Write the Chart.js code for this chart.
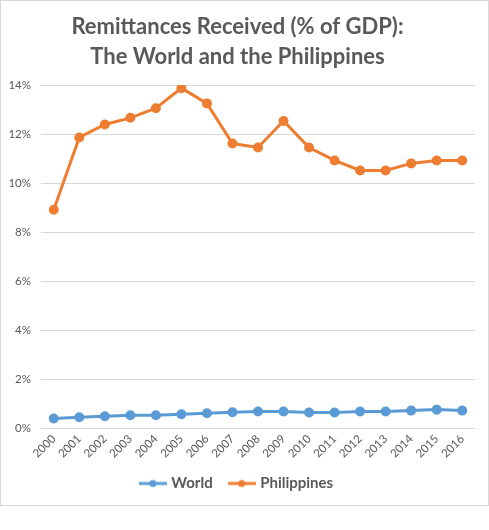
<!DOCTYPE html>
<html>
<head>
<meta charset="utf-8">
<script src="https://cdn.jsdelivr.net/npm/chart.js@4.4.0/dist/chart.umd.min.js"></script>
<style>
  html, body { margin: 0; padding: 0; background: #fff; }
  #wrap { position: relative; width: 489px; height: 530px; }
</style>
</head>
<body>
<div id="wrap"><canvas id="remitChart" width="489" height="530"></canvas></div>
<script>
// data
const years = ['2000', '2001', '2002', '2003', '2004', '2005', '2006', '2007', '2008',
               '2009', '2010', '2011', '2012', '2013', '2014', '2015', '2016'];
const world = [0.39, 0.44, 0.48, 0.52, 0.52, 0.56, 0.60, 0.64, 0.67,
               0.67, 0.63, 0.63, 0.67, 0.67, 0.71, 0.75, 0.71];
const philippines = [8.91, 11.86, 12.39, 12.66, 13.05, 13.87, 13.25, 11.61, 11.45,
                     12.53, 11.45, 10.92, 10.51, 10.51, 10.80, 10.92, 10.92];
const yTicks = [0, 2, 4, 6, 8, 10, 12, 14];

const BLUE = '#5b9bd5';
const ORANGE = '#ed7d31';
const TEXT = '#595959';
const FONT = 'Lato, "Open Sans", sans-serif';

// legend marker: short line with a dot in the middle, like Excel
function lineMarker(color) {
    const c = document.createElement('canvas');
    c.width = 28;
    c.height = 10;
    const g = c.getContext('2d');
    g.strokeStyle = color;
    g.lineWidth = 3;
    g.beginPath();
    g.moveTo(0, 5);
    g.lineTo(28, 5);
    g.stroke();
    g.fillStyle = color;
    g.beginPath();
    g.arc(14, 5, 3.5, 0, Math.PI * 2);
    g.fill();
    return c;
}

// light grey frame round the chart
const framePlugin = {
    id: 'frame',
    beforeDraw(chart) {
        const ctx = chart.ctx;
        ctx.save();
        ctx.fillStyle = '#fff';
        ctx.fillRect(0, 0, chart.width, chart.height);
        ctx.strokeStyle = '#d9d9d9';
        ctx.lineWidth = 1;
        ctx.strokeRect(0.5, 0.5, 488, 505);
        ctx.restore();
    }
};

const ctx = document.getElementById('remitChart').getContext('2d');
new Chart(ctx, {
    type: 'line',
    data: {
        labels: years,
        datasets: [
            {
                label: 'World',
                data: world,
                borderColor: BLUE,
                backgroundColor: BLUE,
                pointBackgroundColor: BLUE,
                pointBorderColor: BLUE,
                borderWidth: 3,
                pointRadius: 3.5,
                pointStyle: 'circle',
                tension: 0
            },
            {
                label: 'Philippines',
                data: philippines,
                borderColor: ORANGE,
                backgroundColor: ORANGE,
                pointBackgroundColor: ORANGE,
                pointBorderColor: ORANGE,
                borderWidth: 3,
                pointRadius: 3.5,
                pointStyle: 'circle',
                tension: 0
            }
        ]
    },
    options: {
        responsive: false,
        animation: false,
        layout: {
            padding: { left: 0, right: 14, top: 0, bottom: 29 }
        },
        plugins: {
            title: {
                display: true,
                text: ['Remittances Received (% of GDP):', 'The World and the Philippines'],
                color: TEXT,
                font: { family: FONT, size: 22, weight: 'bold', lineHeight: '30px' },
                padding: { top: 12, bottom: 13 }
            },
            legend: {
                display: true,
                position: 'bottom',
                labels: {
                    color: TEXT,
                    font: { family: FONT, size: 15, weight: 'bold' },
                    usePointStyle: true,
                    pointStyleWidth: 22,
                    padding: 18,
                    generateLabels(chart) {
                        return chart.data.datasets.map((ds, i) => ({
                            text: ds.label,
                            fontColor: TEXT,
                            pointStyle: lineMarker(ds.borderColor),
                            datasetIndex: i,
                            hidden: false,
                            lineWidth: 0
                        }));
                    }
                }
            },
            tooltip: { enabled: false }
        },
        scales: {
            x: {
                offset: true,
                grid: { display: false, drawTicks: false },
                border: { display: false },
                afterFit(scale) {
                    scale.height = 30;
                },
                ticks: {
                    color: TEXT,
                    font: { family: FONT, size: 11.5 },
                    minRotation: 45,
                    maxRotation: 45,
                    padding: 4,
                    autoSkip: false
                }
            },
            y: {
                min: 0,
                max: 14,
                afterBuildTicks(scale) {
                    scale.ticks = yTicks.map(v => ({ value: v }));
                },
                afterFit(scale) {
                    scale.width = 41;
                },
                grid: { color: '#d9d9d9', drawTicks: false },
                border: { display: false },
                ticks: {
                    color: TEXT,
                    font: { family: FONT, size: 11.5 },
                    padding: 10,
                    callback: v => v + '%'
                }
            }
        }
    },
    plugins: [framePlugin]
});
</script>
</body>
</html>
